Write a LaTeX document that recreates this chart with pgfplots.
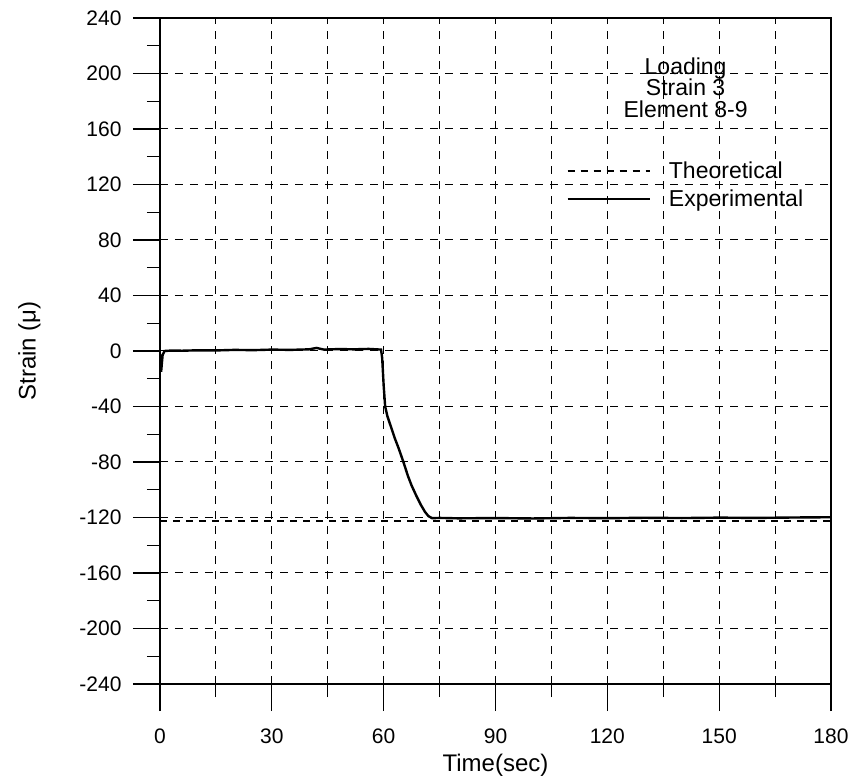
\documentclass[border=0pt]{standalone}
\usepackage{fontspec}
\setmainfont{Liberation Sans}
\usepackage{pgfplots}
\pgfplotsset{compat=1.18}

% Measured strain record (Strain 3, element 8-9) during loading
\begin{document}
\begin{tikzpicture}
\begin{axis}[
  scale only axis,
  width=671pt, height=666pt,
  xmin=0, xmax=180, ymin=-240, ymax=240,
  xtick={0,30,...,180},
  minor xtick={15,45,...,165},
  ytick={-240,-200,...,240},
  minor ytick={-220,-180,...,220},
  tick align=outside,
  major tick length=27pt,
  minor tick length=13pt,
  tick style={black, line width=1.1pt},
  xtick pos=bottom, ytick pos=left,
  axis line style={black, line width=1.6pt},
  xmajorgrids, xminorgrids, ymajorgrids,
  grid style={black, line width=1pt, dash pattern=on 8pt off 7pt},
  minor grid style={black, line width=1pt, dash pattern=on 8pt off 7pt},
  /pgf/number format/assume math mode=true,
  tick label style={font=\fontsize{21}{24}\selectfont},
  yticklabel style={xshift=-8pt},
  xticklabel style={yshift=-14pt},
  label style={font=\fontsize{24}{28}\selectfont},
  xlabel={Time(sec)},
  ylabel={Strain (μ)},
  xlabel style={yshift=-4pt},
  ylabel style={yshift=32pt},
  legend style={draw=none, fill=none, inner sep=0pt,
    at={(axis cs:109,138)}, anchor=north west,
    font=\fontsize{23}{26}\selectfont,
    cells={anchor=west}, row sep=6pt},
  legend image code/.code={%
    \draw[#1] (0pt,0pt) -- (82pt,0pt);
    \path (98pt,0pt);},
]
\coordinate (bl) at (rel axis cs:0,0);
\coordinate (tr) at (rel axis cs:1,1);

\addplot[black, line width=1.8pt, dash pattern=on 7pt off 6pt]
  coordinates {(0,-122.5) (180,-122.5)};
\addlegendentry{Theoretical}

\addplot[black, line width=2.4pt] coordinates {
  (0,-2) (0.3,-15) (0.7,-3) (1.2,0) (3,0.3) (6,0.2) (10,0.5) (15,0.4)
  (20,0.8) (25,0.6) (30,1.0) (35,0.8) (40,1.2) (42,2.2) (44,1.0)
  (48,1.4) (52,1.2) (56,1.5) (59.3,1.0) (59.6,-5) (60,-25) (60.4,-40)
  (61,-47) (62,-55) (63,-63) (64,-70) (65.3,-80) (66.5,-90) (67.5,-97)
  (68.7,-104) (70,-111) (71.1,-116) (72,-119) (73,-120.5) (75,-120.3)
  (80,-120.6) (90,-120.4) (100,-120.7) (110,-120.3) (120,-120.5)
  (130,-120.2) (140,-120.4) (150,-120.1) (160,-120.3) (170,-120.0)
  (180,-119.8)};
\addlegendentry{Experimental}

\node[align=center, font=\fontsize{23}{21.5}\selectfont, anchor=north]
  at (axis cs:141,214) {Loading\\Strain 3\\Element 8-9};
\end{axis}
\pgfresetboundingbox
\path[use as bounding box] ([shift={(-160pt,-99pt)}]bl) rectangle ([shift={(27pt,18pt)}]tr);
\end{tikzpicture}
\end{document}
